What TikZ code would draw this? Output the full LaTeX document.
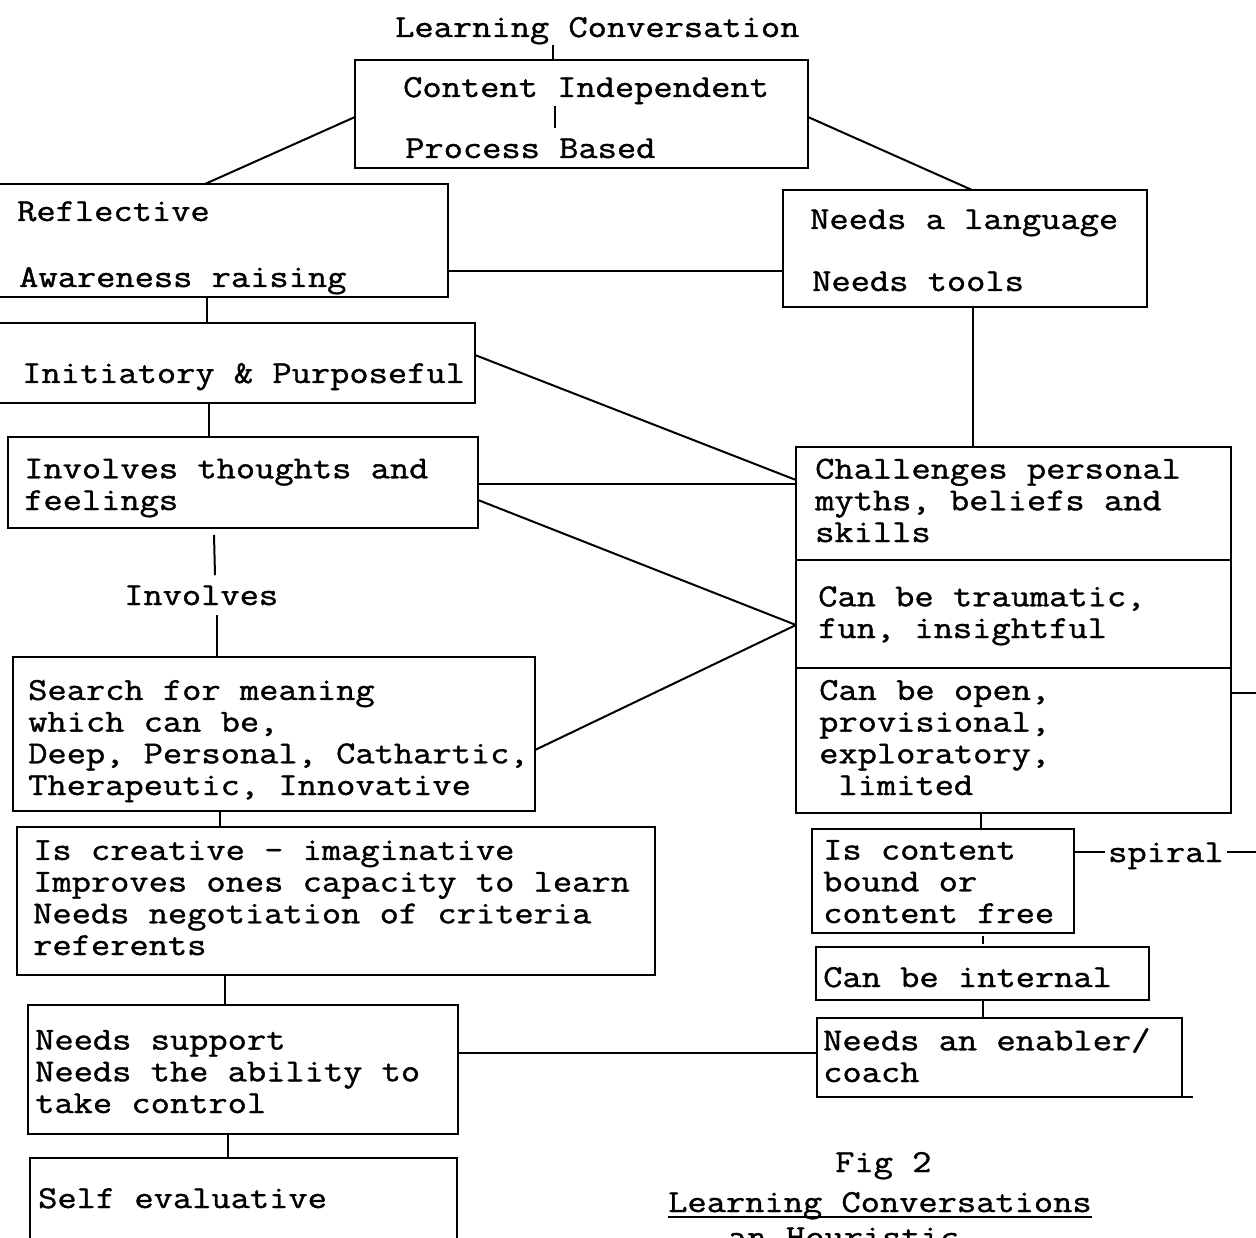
\documentclass[tikz,border=0pt]{standalone}
\usepackage{fontspec}
\newfontfamily\tw[FakeStretch=1.168,FakeBold=1.2]{Latin Modern Mono}
\newcommand\mkbox[5]{\node[bx, minimum width=#4-#2, minimum height=#5-#3] (#1) at ({(#2+#4)/2},{(#3+#5)/2}) {};}
\begin{document}
\begin{tikzpicture}[x=1pt,y=-1pt,
  bx/.style={draw, line width=2pt, inner sep=0pt, outer sep=0pt, rectangle},
  tx/.style={anchor=base west, inner sep=0pt, font=\tw\fontsize{32}{31.7}\selectfont, align=left},
  ln/.style={line width=2pt}]
\useasboundingbox (0,0) rectangle (1256,1238);
\fill[white] (0,0) rectangle (1256,1238);
% boxes
\mkbox{topb}{355}{60}{808}{168}
\mkbox{refl}{-6}{184}{448}{297}
\mkbox{needs}{783}{190}{1147}{307}
\mkbox{init}{-6}{323}{475}{403}
\mkbox{inv}{8}{437}{478}{528}
\mkbox{search}{13}{657}{535}{811}
\mkbox{chal}{796}{447}{1231}{560}
\mkbox{trau}{796}{560}{1231}{668}
\mkbox{open}{796}{668}{1231}{813}
\mkbox{creat}{17}{827}{655}{975}
\mkbox{supp}{28}{1005}{458}{1134}
\mkbox{self}{30}{1158}{457}{1260}
\mkbox{iscont}{812}{829}{1074}{933}
\mkbox{intern}{816}{947}{1149}{1000}
\mkbox{enab}{817}{1018}{1182}{1097}
% texts (multi-line nodes are placed by the baseline of their last line)
\node[tx] (title) at (395,37) {Learning Conversation};
\node[tx] (t1) at (403,97) {Content Independent};
\node[tx] (t2) at (405,158) {Process Based};
\node[tx] (r1) at (17,221) {Reflective};
\node[tx] (r2) at (19,287) {Awareness raising};
\node[tx] (n1) at (810,229) {Needs a language};
\node[tx] (n2) at (812,291) {Needs tools};
\node[tx] (i1) at (22,383) {Initiatory \& Purposeful};
\node[tx] (v1) at (24,510) {Involves thoughts and\\feelings};
\node[tx, inner sep=10pt] (invlbl) at (114,605) {Involves};
\node[tx] (s1) at (28,795) {Search for meaning\\which can be,\\Deep, Personal, Cathartic,\\Therapeutic, Innovative};
\node[tx] (c1) at (815,542) {Challenges personal\\myths, beliefs and\\skills};
\node[tx] (c2) at (818,638) {Can be traumatic,\\fun, insightful};
\node[tx] (c3) at (819,795) {Can be open,\\provisional,\\exploratory,\\\ limited};
\node[tx] (k1) at (33,955) {Is creative - imaginative\\Improves ones capacity to learn\\Needs negotiation of criteria\\referents};
\node[tx] (u1) at (35,1113) {Needs support\\Needs the ability to\\take control};
\node[tx] (e1) at (38,1208) {Self evaluative};
\node[tx] (ic1) at (823,923) {Is content\\bound or\\content free};
\node[tx] (in1) at (823,987) {Can be internal};
\node[tx] (en1) at (823,1082) {Needs an enabler/\\coach};
\node[tx, inner sep=3pt] (spiral) at (1105,862) {spiral};
\node[tx] (fig) at (835,1172) {Fig 2};
\node[tx] (cap1) at (668,1212) {Learning Conversations};
\node[tx] (cap2) at (728,1247) {an Heuristic};
\coordinate (rightend) at (1256,693);
\coordinate (spiralend) at (1256,852);
% connectors
\draw[ln] (title.south -| 553,0) -- (topb.north -| 553,0);
\draw[ln] (555,106) -- (555,128);
\draw[ln] (topb.west |- 0,117) -- (refl.north -| 205,0);
\draw[ln] (topb.east |- 0,117) -- (needs.north -| 972,0);
\draw[ln] (refl.east |- 0,271) -- (needs.west |- 0,271);
\draw[ln] (refl.south -| 207,0) -- (init.north -| 207,0);
\draw[ln] (init.east |- 0,355) -- (chal.west |- 0,480);
\draw[ln] (init.south -| 209,0) -- (inv.north -| 209,0);
\draw[ln] (inv.east |- 0,484) -- (chal.west |- 0,484);
\draw[ln] (inv.east |- 0,500) -- (trau.west |- 0,625);
\draw[ln] (search.east |- 0,750) -- (trau.west |- 0,625);
\draw[ln] (inv.south -| 214,0) ++(0,7) -- (invlbl.north -| 215,0);
\draw[ln] (invlbl.south -| 217,0) -- (search.north -| 217,0);
\draw[ln] (search.south -| 220,0) -- (creat.north -| 220,0);
\draw[ln] (creat.south -| 225,0) -- (supp.north -| 225,0);
\draw[ln] (supp.south -| 228,0) -- (self.north -| 228,0);
\draw[ln] (supp.east |- 0,1053) -- (enab.west |- 0,1053);
\draw[ln] (needs.south -| 973,0) -- (chal.north -| 973,0);
\draw[ln] (open.south -| 981,0) -- (iscont.north -| 981,0);
\draw[line width=1.2pt] (iscont.south -| 983,0) ++(0,3) -- ++(0,8);
\draw[ln] (intern.south -| 983,0) -- (enab.north -| 983,0);
\draw[ln] (open.east |- 0,693) -- (rightend);
\draw[ln] (iscont.east |- 0,852) -- (spiral.west |- 0,852);
\draw[ln] (spiral.east |- 0,852) -- (spiralend);
\draw[ln] (enab.south east) -- ++(11,0);
\draw[line width=1.6pt] (cap1.base west) ++(0,5) -- ++(424,0);
\end{tikzpicture}
\end{document}
